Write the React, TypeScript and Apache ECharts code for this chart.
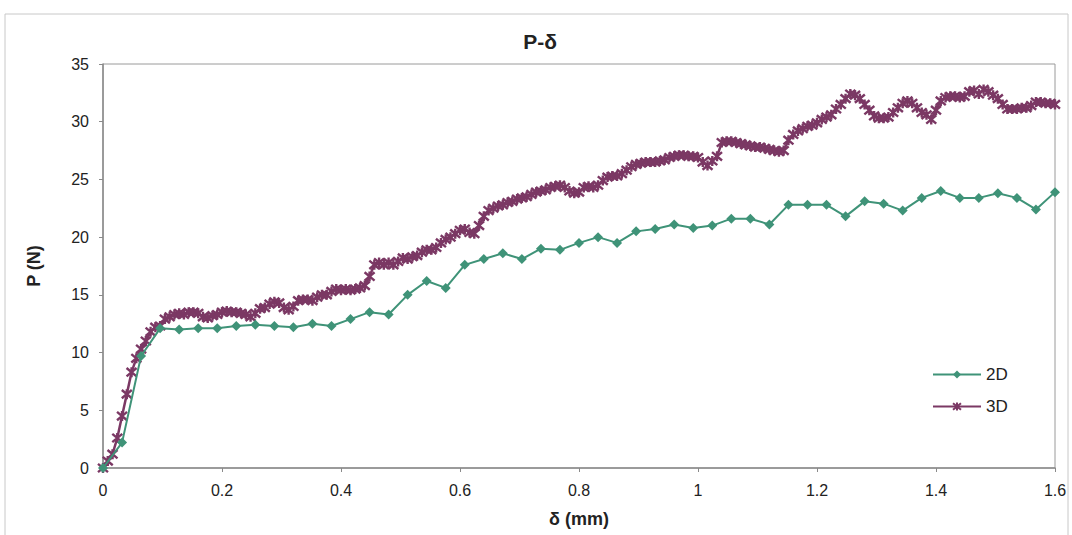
import React, { useEffect, useRef } from "react";
import * as echarts from "echarts";

const xTicks = ["0", "0.2", "0.4", "0.6", "0.8", "1", "1.2", "1.4", "1.6"];
const step2D = 0.032;
const values2D = [
  0, 2.2, 9.7, 12.1, 12.0, 12.1, 12.1, 12.3, 12.4, 12.3,
  12.2, 12.5, 12.3, 12.9, 13.5, 13.3, 15.0, 16.2, 15.6, 17.6,
  18.1, 18.6, 18.1, 19.0, 18.9, 19.5, 20.0, 19.5, 20.5, 20.7,
  21.1, 20.8, 21.0, 21.6, 21.6, 21.1, 22.8, 22.8, 22.8, 21.8,
  23.1, 22.9, 22.3, 23.4, 24.0, 23.4, 23.4, 23.8, 23.4, 22.4,
  23.9,
];
const step3D = 0.008;
const values3D = [
  0, 0.6, 1.2, 2.6, 4.5, 6.4, 8.3, 9.5, 10.3, 11.0,
  11.8, 12.2, 12.3, 12.9, 13.1, 13.3, 13.4, 13.3, 13.5, 13.5,
  13.4, 13.1, 13.0, 13.2, 13.3, 13.5, 13.6, 13.5, 13.5, 13.4,
  13.3, 13.1, 13.4, 13.8, 13.9, 14.2, 14.4, 14.3, 13.9, 13.7,
  14.0, 14.5, 14.6, 14.6, 14.5, 14.8, 15.0, 15.0, 15.3, 15.5,
  15.4, 15.5, 15.4, 15.5, 15.6, 15.8, 16.6, 17.6, 17.8, 17.6,
  17.8, 17.6, 17.9, 18.2, 18.1, 18.3, 18.4, 18.7, 18.9, 18.9,
  19.1, 19.5, 19.8, 20.0, 20.3, 20.6, 20.7, 20.4, 20.3, 21.0,
  21.8, 22.3, 22.5, 22.7, 22.8, 23.0, 23.1, 23.3, 23.4, 23.5,
  23.7, 23.9, 24.0, 24.1, 24.3, 24.4, 24.5, 24.3, 24.0, 23.8,
  23.9, 24.3, 24.4, 24.3, 24.5, 24.9, 25.2, 25.3, 25.3, 25.5,
  25.8, 26.1, 26.3, 26.4, 26.5, 26.5, 26.5, 26.6, 26.7, 26.9,
  27.0, 27.1, 27.1, 27.0, 27.0, 26.9, 26.5, 26.2, 26.6, 27.0,
  28.2, 28.3, 28.3, 28.2, 28.1, 28.0, 27.9, 27.8, 27.8, 27.7,
  27.6, 27.5, 27.4, 27.5, 28.4, 28.9, 29.2, 29.4, 29.6, 29.7,
  29.9, 30.2, 30.4, 30.6, 31.1, 31.5, 32.0, 32.4, 32.3, 32.0,
  31.5, 31.0, 30.5, 30.3, 30.3, 30.4, 30.8, 31.2, 31.6, 31.8,
  31.6, 31.2, 30.8, 30.6, 30.2, 31.0, 31.8, 32.1, 32.2, 32.2,
  32.1, 32.2, 32.6, 32.7, 32.4, 32.8, 32.6, 32.3, 32.0, 31.5,
  31.1, 31.1, 31.1, 31.2, 31.2, 31.4, 31.7, 31.7, 31.6, 31.6,
  31.5,
];

const GREEN = "#3f9378";
const PURPLE = "#7b3864";
const STAR = "path://M0,0L10,10M10,0L0,10M5,-1L5,11";
const FONT = "Liberation Sans, Arial, sans-serif";

export default function App() {
  const ref = useRef<HTMLDivElement>(null);
  useEffect(() => {
    if (!ref.current) return;
    const chart = echarts.init(ref.current, undefined, { renderer: "svg" });
    const d2 = values2D.map((v, i) => [+(i * step2D).toFixed(3), v]);
    const d3 = values3D.map((v, i) => [+(i * step3D).toFixed(3), v]);
    chart.setOption({
      animation: false,
      backgroundColor: "#ffffff",
      textStyle: { fontFamily: FONT },
      graphic: [
        {
          type: "rect",
          shape: { x: 5, y: 14, width: 1063, height: 540 },
          style: { fill: "none", stroke: "#c8c8c8", lineWidth: 1 },
          silent: true,
        },
        {
          type: "text",
          x: 540,
          y: 41,
          style: {
            text: "P-δ",
            fontSize: 21,
            fontWeight: "bold",
            fill: "#222",
            align: "center",
            verticalAlign: "middle",
            fontFamily: FONT,
          },
        },
      ],
      grid: {
        left: 103,
        right: 17,
        top: 64,
        bottom: 67,
        show: true,
        borderColor: "#9a9a9a",
        borderWidth: 1,
        backgroundColor: "transparent",
      },
      legend: {
        orient: "vertical",
        left: 927,
        top: 361,
        itemWidth: 48,
        itemHeight: 10,
        itemGap: 15,
        textStyle: { fontSize: 17, color: "#222" },
        data: ["2D", "3D"],
      },
      xAxis: {
        type: "value",
        min: 0,
        max: 1.6,
        interval: 0.2,
        name: "δ (mm)",
        nameLocation: "middle",
        nameGap: 42,
        nameTextStyle: { fontSize: 18, fontWeight: "bold", color: "#222" },
        axisLine: { show: true, lineStyle: { color: "#8a8a8a", width: 1.5 } },
        axisTick: { show: true, length: 4, lineStyle: { color: "#8a8a8a" } },
        axisLabel: {
          fontSize: 16,
          color: "#222",
          margin: 14,
          formatter: (v: number) => xTicks[Math.round(v / 0.2)] ?? "",
        },
        splitLine: { show: false },
      },
      yAxis: {
        type: "value",
        min: 0,
        max: 35,
        interval: 5,
        name: "P (N)",
        nameLocation: "middle",
        nameRotate: 90,
        nameGap: 60,
        nameTextStyle: { fontSize: 18, fontWeight: "bold", color: "#222" },
        axisLine: { show: true, lineStyle: { color: "#8a8a8a", width: 1.5 } },
        axisTick: { show: true, length: 4, lineStyle: { color: "#8a8a8a" } },
        axisLabel: { fontSize: 16, color: "#222", margin: 14 },
        splitLine: { show: false },
      },
      series: [
        {
          name: "2D",
          type: "line",
          data: d2,
          symbol: "diamond",
          symbolSize: 10,
          showAllSymbol: true,
          lineStyle: { color: GREEN, width: 2 },
          itemStyle: { color: GREEN },
          z: 3,
        },
        {
          name: "3D",
          type: "line",
          data: d3,
          symbol: STAR,
          symbolSize: 10,
          showAllSymbol: true,
          lineStyle: { color: PURPLE, width: 2.5 },
          itemStyle: { color: PURPLE, borderColor: PURPLE, borderWidth: 2.4 },
          z: 2,
        },
      ],
    });
    return () => chart.dispose();
  }, []);
  return (
    <div
      ref={ref}
      style={{ position: "fixed", left: 0, top: 0, width: 1072, height: 535 }}
    />
  );
}
